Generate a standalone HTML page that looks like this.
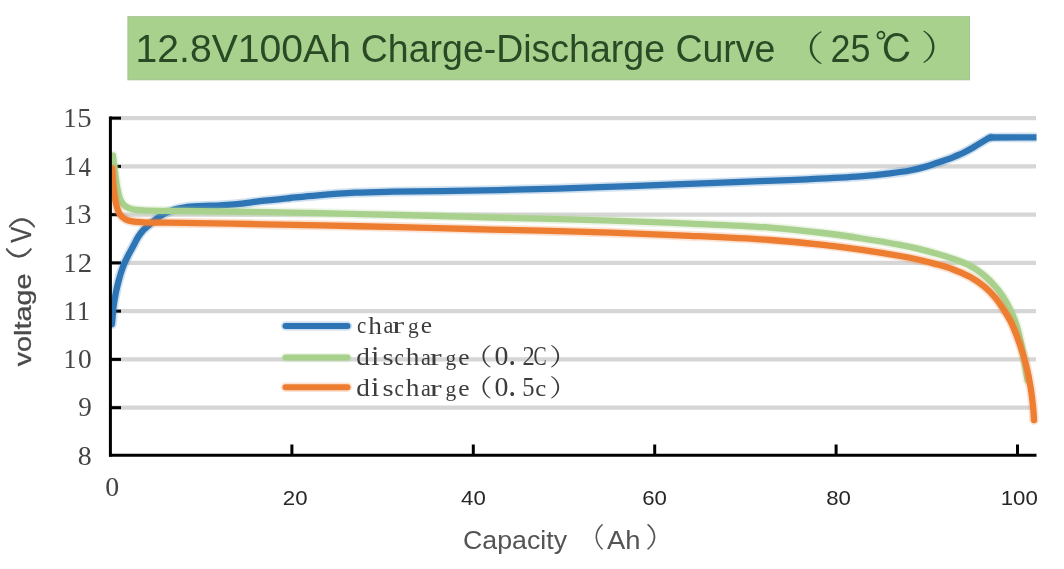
<!DOCTYPE html>
<html><head><meta charset="utf-8"><title>12.8V100Ah Charge-Discharge Curve</title><style>html,body{margin:0;padding:0;background:#fff;overflow:hidden}svg{display:block;filter:blur(0.6px)}</style></head><body>
<svg width="1064" height="569" viewBox="0 0 1064 569">
<rect width="1064" height="569" fill="#ffffff"/>
<defs><clipPath id="plot"><rect x="110.2" y="100" width="940" height="360"/></clipPath></defs>
<rect x="127.9" y="16.7" width="841.6" height="63.1" fill="#a9d18e" stroke="#a3c28f" stroke-width="1"/>
<text fill="#294a25" ><tspan x="135.60" y="61.80" font-family="Liberation Sans, sans-serif" font-weight="400" font-size="38" textLength="215.30" lengthAdjust="spacingAndGlyphs">12.8V100Ah</tspan> <tspan x="360.80" y="61.80" font-family="Liberation Sans, sans-serif" font-weight="400" font-size="38" textLength="414.60" lengthAdjust="spacingAndGlyphs">Charge-Discharge Curve</tspan> <tspan x="782.20" y="60.62" font-family="Liberation Serif, Noto Serif CJK SC, serif" font-weight="300" font-size="35.08" textLength="42.15" lengthAdjust="spacingAndGlyphs">（</tspan><tspan x="830.60" y="61.80" font-family="Liberation Sans, sans-serif" font-weight="400" font-size="38" textLength="40.00" lengthAdjust="spacingAndGlyphs">25</tspan><tspan x="874.54" y="63.17" font-family="Liberation Sans, IPAGothic, sans-serif" font-weight="400" font-size="38.88" textLength="39.17" lengthAdjust="spacingAndGlyphs">℃</tspan><tspan x="920.72" y="60.44" font-family="Liberation Serif, Noto Serif CJK SC, serif" font-weight="300" font-size="34.87" textLength="39.65" lengthAdjust="spacingAndGlyphs">）</tspan></text>
<line x1="110" y1="407.65" x2="1036" y2="407.65" stroke="#d6d6d6" stroke-width="4.2"/>
<line x1="110" y1="359.40" x2="1036" y2="359.40" stroke="#d6d6d6" stroke-width="4.2"/>
<line x1="110" y1="311.15" x2="1036" y2="311.15" stroke="#d6d6d6" stroke-width="4.2"/>
<line x1="110" y1="262.90" x2="1036" y2="262.90" stroke="#d6d6d6" stroke-width="4.2"/>
<line x1="110" y1="214.65" x2="1036" y2="214.65" stroke="#d6d6d6" stroke-width="4.2"/>
<line x1="110" y1="166.40" x2="1036" y2="166.40" stroke="#d6d6d6" stroke-width="4.2"/>
<line x1="110" y1="118.15" x2="1036" y2="118.15" stroke="#d6d6d6" stroke-width="4.2"/>
<line x1="285.5" y1="326" x2="347.5" y2="326" stroke="#2e75b6" stroke-opacity="0.22" stroke-width="9.4" stroke-linecap="round"/>
<line x1="285.5" y1="326" x2="347.5" y2="326" stroke="#2e75b6" stroke-width="6" stroke-linecap="round"/>
<line x1="285.5" y1="357.6" x2="347.5" y2="357.6" stroke="#a9d18e" stroke-opacity="0.22" stroke-width="9.4" stroke-linecap="round"/>
<line x1="285.5" y1="357.6" x2="347.5" y2="357.6" stroke="#a9d18e" stroke-width="6" stroke-linecap="round"/>
<line x1="285.5" y1="387.3" x2="347.5" y2="387.3" stroke="#ed7d31" stroke-opacity="0.22" stroke-width="9.4" stroke-linecap="round"/>
<line x1="285.5" y1="387.3" x2="347.5" y2="387.3" stroke="#ed7d31" stroke-width="6" stroke-linecap="round"/>
<text fill="#3c3c3c" ><tspan x="357.02" y="333.47" font-family="Liberation Serif, serif" font-weight="400" font-size="23.13" textLength="9.23" lengthAdjust="spacingAndGlyphs">c</tspan><tspan x="368.28" y="333.53" font-family="Liberation Serif, serif" font-weight="400" font-size="25.94" textLength="13.68" lengthAdjust="spacingAndGlyphs">h</tspan><tspan x="383.57" y="333.17" font-family="Liberation Serif, serif" font-weight="400" font-size="22.74" textLength="9.89" lengthAdjust="spacingAndGlyphs">a</tspan><tspan x="392.39" y="333.40" font-family="Liberation Serif, serif" font-weight="400" font-size="22.98" textLength="11.90" lengthAdjust="spacingAndGlyphs">r</tspan><tspan x="407.94" y="332.90" font-family="Liberation Serif, serif" font-weight="400" font-size="20.00" textLength="10.69" lengthAdjust="spacingAndGlyphs">g</tspan><tspan x="420.83" y="333.47" font-family="Liberation Serif, serif" font-weight="400" font-size="23.13" textLength="11.28" lengthAdjust="spacingAndGlyphs">e</tspan></text>
<text fill="#3c3c3c" ><tspan x="356.15" y="364.74" font-family="Liberation Serif, serif" font-weight="400" font-size="25.57" textLength="13.63" lengthAdjust="spacingAndGlyphs">d</tspan><tspan x="371.14" y="365.00" font-family="Liberation Serif, serif" font-weight="400" font-size="27.12" textLength="8.45" lengthAdjust="spacingAndGlyphs">i</tspan><tspan x="382.46" y="365.07" font-family="Liberation Serif, serif" font-weight="400" font-size="23.13" textLength="11.12" lengthAdjust="spacingAndGlyphs">s</tspan><tspan x="394.52" y="365.07" font-family="Liberation Serif, serif" font-weight="400" font-size="23.13" textLength="9.23" lengthAdjust="spacingAndGlyphs">c</tspan><tspan x="405.78" y="365.13" font-family="Liberation Serif, serif" font-weight="400" font-size="25.94" textLength="13.68" lengthAdjust="spacingAndGlyphs">h</tspan><tspan x="421.07" y="364.77" font-family="Liberation Serif, serif" font-weight="400" font-size="22.74" textLength="9.89" lengthAdjust="spacingAndGlyphs">a</tspan><tspan x="429.89" y="365.00" font-family="Liberation Serif, serif" font-weight="400" font-size="22.98" textLength="11.90" lengthAdjust="spacingAndGlyphs">r</tspan><tspan x="445.44" y="364.50" font-family="Liberation Serif, serif" font-weight="400" font-size="20.00" textLength="10.69" lengthAdjust="spacingAndGlyphs">g</tspan><tspan x="458.33" y="365.07" font-family="Liberation Serif, serif" font-weight="400" font-size="23.13" textLength="11.28" lengthAdjust="spacingAndGlyphs">e</tspan><tspan x="464.13" y="364.76" font-family="Liberation Serif, Noto Serif CJK SC, serif" font-weight="400" font-size="23.96" textLength="28.42" lengthAdjust="spacingAndGlyphs">（</tspan><tspan x="494.59" y="364.93" font-family="Liberation Serif, serif" font-weight="400" font-size="27.41" textLength="13.93" lengthAdjust="spacingAndGlyphs">0</tspan><tspan x="508.24" y="364.70" font-family="Liberation Serif, serif" font-weight="400" font-size="33.04" textLength="7.92" lengthAdjust="spacingAndGlyphs">.</tspan><tspan x="522.50" y="365.00" font-family="Liberation Serif, serif" font-weight="400" font-size="27.27" textLength="12.25" lengthAdjust="spacingAndGlyphs">2</tspan><tspan x="533.61" y="364.93" font-family="Liberation Serif, serif" font-weight="400" font-size="27.31" textLength="13.11" lengthAdjust="spacingAndGlyphs">C</tspan><tspan x="549.25" y="364.76" font-family="Liberation Serif, Noto Serif CJK SC, serif" font-weight="400" font-size="23.96" textLength="28.42" lengthAdjust="spacingAndGlyphs">）</tspan></text>
<text fill="#3c3c3c" ><tspan x="356.15" y="395.74" font-family="Liberation Serif, serif" font-weight="400" font-size="25.57" textLength="13.63" lengthAdjust="spacingAndGlyphs">d</tspan><tspan x="371.14" y="396.00" font-family="Liberation Serif, serif" font-weight="400" font-size="27.12" textLength="8.45" lengthAdjust="spacingAndGlyphs">i</tspan><tspan x="382.46" y="396.07" font-family="Liberation Serif, serif" font-weight="400" font-size="23.13" textLength="11.12" lengthAdjust="spacingAndGlyphs">s</tspan><tspan x="394.52" y="396.07" font-family="Liberation Serif, serif" font-weight="400" font-size="23.13" textLength="9.23" lengthAdjust="spacingAndGlyphs">c</tspan><tspan x="405.78" y="396.13" font-family="Liberation Serif, serif" font-weight="400" font-size="25.94" textLength="13.68" lengthAdjust="spacingAndGlyphs">h</tspan><tspan x="421.07" y="395.77" font-family="Liberation Serif, serif" font-weight="400" font-size="22.74" textLength="9.89" lengthAdjust="spacingAndGlyphs">a</tspan><tspan x="429.89" y="396.00" font-family="Liberation Serif, serif" font-weight="400" font-size="22.98" textLength="11.90" lengthAdjust="spacingAndGlyphs">r</tspan><tspan x="445.44" y="395.50" font-family="Liberation Serif, serif" font-weight="400" font-size="20.00" textLength="10.69" lengthAdjust="spacingAndGlyphs">g</tspan><tspan x="458.33" y="396.07" font-family="Liberation Serif, serif" font-weight="400" font-size="23.13" textLength="11.28" lengthAdjust="spacingAndGlyphs">e</tspan><tspan x="464.13" y="395.76" font-family="Liberation Serif, Noto Serif CJK SC, serif" font-weight="400" font-size="23.96" textLength="28.42" lengthAdjust="spacingAndGlyphs">（</tspan><tspan x="494.59" y="395.93" font-family="Liberation Serif, serif" font-weight="400" font-size="27.41" textLength="13.93" lengthAdjust="spacingAndGlyphs">0</tspan><tspan x="508.24" y="395.70" font-family="Liberation Serif, serif" font-weight="400" font-size="33.04" textLength="7.92" lengthAdjust="spacingAndGlyphs">.</tspan><tspan x="522.13" y="395.73" font-family="Liberation Serif, serif" font-weight="400" font-size="27.07" textLength="12.25" lengthAdjust="spacingAndGlyphs">5</tspan><tspan x="535.31" y="395.96" font-family="Liberation Serif, serif" font-weight="400" font-size="23.96" textLength="11.01" lengthAdjust="spacingAndGlyphs">c</tspan><tspan x="549.25" y="395.76" font-family="Liberation Serif, Noto Serif CJK SC, serif" font-weight="400" font-size="23.96" textLength="28.42" lengthAdjust="spacingAndGlyphs">）</tspan></text>
<line x1="110" y1="407.65" x2="121" y2="407.65" stroke="#000" stroke-width="3"/>
<line x1="110" y1="359.40" x2="121" y2="359.40" stroke="#000" stroke-width="3"/>
<line x1="110" y1="311.15" x2="121" y2="311.15" stroke="#000" stroke-width="3"/>
<line x1="110" y1="262.90" x2="121" y2="262.90" stroke="#000" stroke-width="3"/>
<line x1="110" y1="214.65" x2="121" y2="214.65" stroke="#000" stroke-width="3"/>
<line x1="110" y1="166.40" x2="121" y2="166.40" stroke="#000" stroke-width="3"/>
<line x1="110" y1="118.15" x2="121" y2="118.15" stroke="#000" stroke-width="3"/>
<line x1="291.90" y1="444.5" x2="291.90" y2="455" stroke="#000" stroke-width="3"/>
<line x1="473.30" y1="444.5" x2="473.30" y2="455" stroke="#000" stroke-width="3"/>
<line x1="654.70" y1="444.5" x2="654.70" y2="455" stroke="#000" stroke-width="3"/>
<line x1="836.10" y1="444.5" x2="836.10" y2="455" stroke="#000" stroke-width="3"/>
<line x1="1017.50" y1="444.5" x2="1017.50" y2="455" stroke="#000" stroke-width="3"/>
<g clip-path="url(#plot)">
<path d="M111.90,324.20 C112.07,322.67 112.23,321.45 112.40,319.60 C112.66,316.80 112.81,312.47 113.20,309.00 C113.58,305.61 114.15,302.22 114.70,299.00 C115.22,295.97 115.77,293.13 116.40,290.20 C117.03,287.26 117.74,284.33 118.50,281.40 C119.27,278.46 120.06,275.52 121.00,272.60 C121.95,269.65 122.98,266.70 124.20,263.80 C125.44,260.84 126.90,257.95 128.40,255.00 C129.96,251.95 131.76,248.84 133.40,245.80 C135.00,242.84 136.37,239.70 138.10,237.00 C139.72,234.46 141.61,231.91 143.40,230.00 C144.85,228.45 146.31,227.50 147.80,226.20 C149.35,224.84 150.71,223.46 152.50,222.00 C154.68,220.22 157.49,218.03 160.00,216.40 C162.32,214.89 164.55,213.67 167.00,212.50 C169.54,211.29 172.14,210.15 175.00,209.30 C178.11,208.38 181.31,207.81 185.00,207.30 C189.48,206.68 194.64,206.42 200.00,206.10 C206.18,205.73 213.61,205.63 220.00,205.30 C225.90,204.99 230.92,204.79 237.00,204.20 C244.10,203.51 251.82,202.17 260.00,201.20 C269.33,200.09 280.21,199.00 290.00,198.00 C299.39,197.04 307.68,196.13 317.60,195.30 C329.16,194.34 342.66,193.30 355.20,192.70 C367.73,192.10 379.55,191.96 392.80,191.70 C407.64,191.41 422.45,191.38 440.00,191.10 C462.12,190.75 489.22,190.32 515.00,189.70 C542.45,189.04 572.55,188.12 600.00,187.20 C625.78,186.34 649.22,185.38 675.00,184.40 C702.45,183.35 735.83,182.03 760.00,181.10 C777.97,180.41 790.87,180.05 807.00,179.30 C824.14,178.50 844.84,177.57 860.00,176.40 C871.42,175.52 881.02,174.50 890.00,173.40 C897.35,172.50 903.84,171.68 910.00,170.50 C915.38,169.47 920.53,168.17 925.00,166.90 C928.69,165.85 931.96,164.60 935.00,163.60 C937.54,162.76 939.67,162.08 942.00,161.30 C944.34,160.52 946.68,159.78 949.00,158.90 C951.35,158.01 953.67,156.98 956.00,156.00 C958.34,155.02 960.69,154.10 963.00,153.00 C965.36,151.87 967.68,150.61 970.00,149.30 C972.35,147.97 974.67,146.50 977.00,145.10 C979.33,143.70 981.77,142.22 984.00,140.90 C986.02,139.70 987.87,138.63 989.80,137.50" fill="none" stroke="#2e75b6" stroke-opacity="0.22" stroke-width="9.7" stroke-linecap="round" stroke-linejoin="round"/>
<path d="M111.90,324.20 C112.07,322.67 112.23,321.45 112.40,319.60 C112.66,316.80 112.81,312.47 113.20,309.00 C113.58,305.61 114.15,302.22 114.70,299.00 C115.22,295.97 115.77,293.13 116.40,290.20 C117.03,287.26 117.74,284.33 118.50,281.40 C119.27,278.46 120.06,275.52 121.00,272.60 C121.95,269.65 122.98,266.70 124.20,263.80 C125.44,260.84 126.90,257.95 128.40,255.00 C129.96,251.95 131.76,248.84 133.40,245.80 C135.00,242.84 136.37,239.70 138.10,237.00 C139.72,234.46 141.61,231.91 143.40,230.00 C144.85,228.45 146.31,227.50 147.80,226.20 C149.35,224.84 150.71,223.46 152.50,222.00 C154.68,220.22 157.49,218.03 160.00,216.40 C162.32,214.89 164.55,213.67 167.00,212.50 C169.54,211.29 172.14,210.15 175.00,209.30 C178.11,208.38 181.31,207.81 185.00,207.30 C189.48,206.68 194.64,206.42 200.00,206.10 C206.18,205.73 213.61,205.63 220.00,205.30 C225.90,204.99 230.92,204.79 237.00,204.20 C244.10,203.51 251.82,202.17 260.00,201.20 C269.33,200.09 280.21,199.00 290.00,198.00 C299.39,197.04 307.68,196.13 317.60,195.30 C329.16,194.34 342.66,193.30 355.20,192.70 C367.73,192.10 379.55,191.96 392.80,191.70 C407.64,191.41 422.45,191.38 440.00,191.10 C462.12,190.75 489.22,190.32 515.00,189.70 C542.45,189.04 572.55,188.12 600.00,187.20 C625.78,186.34 649.22,185.38 675.00,184.40 C702.45,183.35 735.83,182.03 760.00,181.10 C777.97,180.41 790.87,180.05 807.00,179.30 C824.14,178.50 844.84,177.57 860.00,176.40 C871.42,175.52 881.02,174.50 890.00,173.40 C897.35,172.50 903.84,171.68 910.00,170.50 C915.38,169.47 920.53,168.17 925.00,166.90 C928.69,165.85 931.96,164.60 935.00,163.60 C937.54,162.76 939.67,162.08 942.00,161.30 C944.34,160.52 946.68,159.78 949.00,158.90 C951.35,158.01 953.67,156.98 956.00,156.00 C958.34,155.02 960.69,154.10 963.00,153.00 C965.36,151.87 967.68,150.61 970.00,149.30 C972.35,147.97 974.67,146.50 977.00,145.10 C979.33,143.70 981.77,142.22 984.00,140.90 C986.02,139.70 987.87,138.63 989.80,137.50" fill="none" stroke="#2e75b6" stroke-width="6.3" stroke-linecap="round" stroke-linejoin="round"/>
<path d="M989.8,137.5 L1036.5,137.4" fill="none" stroke="#2e75b6" stroke-opacity="0.22" stroke-width="9.7" stroke-linecap="butt"/>
<path d="M989.8,137.5 L1036.5,137.4" fill="none" stroke="#2e75b6" stroke-width="6.3" stroke-linecap="butt"/>
<path d="M112.90,155.50 C113.20,157.67 113.49,159.62 113.80,162.00 C114.18,164.91 114.51,168.08 115.00,171.70 C115.62,176.33 116.30,182.55 117.30,187.50 C118.21,191.99 118.95,196.87 120.60,200.20 C121.87,202.76 123.41,204.78 125.40,206.30 C127.38,207.81 129.81,208.62 132.50,209.30 C135.73,210.12 138.74,210.12 143.60,210.40 C152.85,210.93 168.89,210.78 184.00,211.00 C203.31,211.28 227.60,211.54 250.00,211.90 C273.24,212.27 296.70,212.70 321.00,213.20 C346.63,213.73 374.46,214.36 400.00,215.00 C424.04,215.60 446.67,216.28 470.00,216.90 C493.33,217.52 516.58,218.09 540.00,218.70 C563.58,219.32 586.70,219.81 611.00,220.60 C636.63,221.43 663.59,222.44 690.00,223.60 C716.59,224.77 746.09,225.79 770.00,227.60 C789.50,229.08 806.70,231.02 823.00,233.00 C837.01,234.70 849.10,236.50 862.00,238.50 C874.76,240.47 889.76,242.96 900.00,244.90 C907.00,246.22 911.76,247.20 917.60,248.60 C923.46,250.00 929.28,251.61 935.10,253.30 C940.98,255.01 946.87,256.72 952.70,258.80 C958.61,260.91 964.91,263.01 970.30,265.90 C975.40,268.63 980.10,272.02 984.30,275.50 C988.24,278.76 991.73,282.42 994.90,286.00 C997.85,289.33 1000.27,292.34 1002.80,296.20 C1005.74,300.68 1008.88,306.59 1011.20,311.50 C1013.24,315.81 1014.70,319.40 1016.20,324.00 C1017.96,329.40 1019.44,335.82 1020.80,342.00 C1022.22,348.47 1023.36,355.50 1024.50,362.00 C1025.58,368.15 1026.50,374.00 1027.50,380.00" fill="none" stroke="#a9d18e" stroke-opacity="0.22" stroke-width="9.7" stroke-linecap="round" stroke-linejoin="round"/>
<path d="M112.90,155.50 C113.20,157.67 113.49,159.62 113.80,162.00 C114.18,164.91 114.51,168.08 115.00,171.70 C115.62,176.33 116.30,182.55 117.30,187.50 C118.21,191.99 118.95,196.87 120.60,200.20 C121.87,202.76 123.41,204.78 125.40,206.30 C127.38,207.81 129.81,208.62 132.50,209.30 C135.73,210.12 138.74,210.12 143.60,210.40 C152.85,210.93 168.89,210.78 184.00,211.00 C203.31,211.28 227.60,211.54 250.00,211.90 C273.24,212.27 296.70,212.70 321.00,213.20 C346.63,213.73 374.46,214.36 400.00,215.00 C424.04,215.60 446.67,216.28 470.00,216.90 C493.33,217.52 516.58,218.09 540.00,218.70 C563.58,219.32 586.70,219.81 611.00,220.60 C636.63,221.43 663.59,222.44 690.00,223.60 C716.59,224.77 746.09,225.79 770.00,227.60 C789.50,229.08 806.70,231.02 823.00,233.00 C837.01,234.70 849.10,236.50 862.00,238.50 C874.76,240.47 889.76,242.96 900.00,244.90 C907.00,246.22 911.76,247.20 917.60,248.60 C923.46,250.00 929.28,251.61 935.10,253.30 C940.98,255.01 946.87,256.72 952.70,258.80 C958.61,260.91 964.91,263.01 970.30,265.90 C975.40,268.63 980.10,272.02 984.30,275.50 C988.24,278.76 991.73,282.42 994.90,286.00 C997.85,289.33 1000.27,292.34 1002.80,296.20 C1005.74,300.68 1008.88,306.59 1011.20,311.50 C1013.24,315.81 1014.70,319.40 1016.20,324.00 C1017.96,329.40 1019.44,335.82 1020.80,342.00 C1022.22,348.47 1023.36,355.50 1024.50,362.00 C1025.58,368.15 1026.50,374.00 1027.50,380.00" fill="none" stroke="#a9d18e" stroke-width="6.3" stroke-linecap="round" stroke-linejoin="round"/>
<path d="M112.20,168.50 C112.33,170.67 112.43,172.48 112.60,175.00 C112.83,178.49 113.01,183.10 113.50,187.50 C114.06,192.47 114.71,198.57 115.90,203.30 C116.92,207.32 117.94,211.43 119.80,214.20 C121.30,216.43 123.28,218.00 125.40,219.20 C127.51,220.39 129.84,220.89 132.50,221.40 C135.76,222.03 138.74,222.07 143.60,222.30 C152.86,222.73 168.89,222.57 184.00,222.80 C203.31,223.10 227.60,223.58 250.00,224.00 C273.23,224.44 296.70,224.88 321.00,225.40 C346.63,225.94 374.46,226.58 400.00,227.20 C424.04,227.78 446.67,228.42 470.00,229.00 C493.33,229.58 516.58,230.09 540.00,230.70 C563.58,231.32 586.70,231.88 611.00,232.70 C636.63,233.56 663.59,234.59 690.00,235.80 C716.59,237.02 746.08,238.29 770.00,240.00 C789.49,241.39 806.70,243.02 823.00,244.80 C837.01,246.33 849.10,247.92 862.00,249.80 C874.76,251.66 889.75,254.15 900.00,256.00 C906.99,257.27 911.76,258.19 917.60,259.50 C923.46,260.82 929.28,262.29 935.10,263.90 C940.98,265.52 946.90,267.04 952.70,269.20 C958.64,271.42 964.89,274.07 970.30,277.10 C975.37,279.95 980.10,283.21 984.30,286.70 C988.25,289.98 991.69,293.49 994.90,297.30 C998.12,301.12 1000.91,305.43 1003.60,309.60 C1006.23,313.67 1008.53,317.17 1010.90,322.00 C1013.94,328.19 1017.12,336.61 1019.70,344.00 C1022.24,351.28 1024.46,358.62 1026.30,366.00 C1028.12,373.29 1029.53,380.82 1030.70,388.00 C1031.80,394.80 1032.64,402.17 1033.20,408.00 C1033.63,412.50 1033.73,416.00 1034.00,420.00" fill="none" stroke="#ed7d31" stroke-opacity="0.22" stroke-width="9.7" stroke-linecap="round" stroke-linejoin="round"/>
<path d="M112.20,168.50 C112.33,170.67 112.43,172.48 112.60,175.00 C112.83,178.49 113.01,183.10 113.50,187.50 C114.06,192.47 114.71,198.57 115.90,203.30 C116.92,207.32 117.94,211.43 119.80,214.20 C121.30,216.43 123.28,218.00 125.40,219.20 C127.51,220.39 129.84,220.89 132.50,221.40 C135.76,222.03 138.74,222.07 143.60,222.30 C152.86,222.73 168.89,222.57 184.00,222.80 C203.31,223.10 227.60,223.58 250.00,224.00 C273.23,224.44 296.70,224.88 321.00,225.40 C346.63,225.94 374.46,226.58 400.00,227.20 C424.04,227.78 446.67,228.42 470.00,229.00 C493.33,229.58 516.58,230.09 540.00,230.70 C563.58,231.32 586.70,231.88 611.00,232.70 C636.63,233.56 663.59,234.59 690.00,235.80 C716.59,237.02 746.08,238.29 770.00,240.00 C789.49,241.39 806.70,243.02 823.00,244.80 C837.01,246.33 849.10,247.92 862.00,249.80 C874.76,251.66 889.75,254.15 900.00,256.00 C906.99,257.27 911.76,258.19 917.60,259.50 C923.46,260.82 929.28,262.29 935.10,263.90 C940.98,265.52 946.90,267.04 952.70,269.20 C958.64,271.42 964.89,274.07 970.30,277.10 C975.37,279.95 980.10,283.21 984.30,286.70 C988.25,289.98 991.69,293.49 994.90,297.30 C998.12,301.12 1000.91,305.43 1003.60,309.60 C1006.23,313.67 1008.53,317.17 1010.90,322.00 C1013.94,328.19 1017.12,336.61 1019.70,344.00 C1022.24,351.28 1024.46,358.62 1026.30,366.00 C1028.12,373.29 1029.53,380.82 1030.70,388.00 C1031.80,394.80 1032.64,402.17 1033.20,408.00 C1033.63,412.50 1033.73,416.00 1034.00,420.00" fill="none" stroke="#ed7d31" stroke-width="6.3" stroke-linecap="round" stroke-linejoin="round"/>
</g>
<line x1="110.4" y1="116.6" x2="110.4" y2="456.5" stroke="#000" stroke-width="3"/>
<line x1="109" y1="455.3" x2="1036.5" y2="455.3" stroke="#000" stroke-width="3"/>
<text fill="#444444" ><tspan x="77.89" y="464.63" font-family="Liberation Serif, serif" font-weight="400" font-size="27.26" textLength="13.93" lengthAdjust="spacingAndGlyphs">8</tspan></text>
<text fill="#444444" ><tspan x="78.18" y="416.38" font-family="Liberation Serif, serif" font-weight="400" font-size="27.46" textLength="13.60" lengthAdjust="spacingAndGlyphs">9</tspan></text>
<text fill="#444444" ><tspan x="63.46" y="368.40" font-family="Liberation Serif, serif" font-weight="400" font-size="28.09" textLength="13.00" lengthAdjust="spacingAndGlyphs">1</tspan><tspan x="77.90" y="368.13" font-family="Liberation Serif, serif" font-weight="400" font-size="27.26" textLength="13.69" lengthAdjust="spacingAndGlyphs">0</tspan></text>
<text fill="#444444" ><tspan x="63.46" y="320.15" font-family="Liberation Serif, serif" font-weight="400" font-size="28.09" textLength="13.00" lengthAdjust="spacingAndGlyphs">1</tspan><tspan x="77.06" y="320.15" font-family="Liberation Serif, serif" font-weight="400" font-size="28.09" textLength="13.00" lengthAdjust="spacingAndGlyphs">1</tspan></text>
<text fill="#444444" ><tspan x="63.46" y="271.90" font-family="Liberation Serif, serif" font-weight="400" font-size="28.09" textLength="13.00" lengthAdjust="spacingAndGlyphs">1</tspan><tspan x="77.71" y="271.90" font-family="Liberation Serif, serif" font-weight="400" font-size="27.88" textLength="14.37" lengthAdjust="spacingAndGlyphs">2</tspan></text>
<text fill="#444444" ><tspan x="63.46" y="223.65" font-family="Liberation Serif, serif" font-weight="400" font-size="28.09" textLength="13.00" lengthAdjust="spacingAndGlyphs">1</tspan><tspan x="77.60" y="223.38" font-family="Liberation Serif, serif" font-weight="400" font-size="27.46" textLength="14.02" lengthAdjust="spacingAndGlyphs">3</tspan></text>
<text fill="#444444" ><tspan x="63.46" y="175.40" font-family="Liberation Serif, serif" font-weight="400" font-size="28.09" textLength="13.00" lengthAdjust="spacingAndGlyphs">1</tspan><tspan x="78.51" y="175.54" font-family="Liberation Serif, serif" font-weight="400" font-size="28.31" textLength="12.37" lengthAdjust="spacingAndGlyphs">4</tspan></text>
<text fill="#444444" ><tspan x="63.46" y="127.15" font-family="Liberation Serif, serif" font-weight="400" font-size="28.09" textLength="13.00" lengthAdjust="spacingAndGlyphs">1</tspan><tspan x="77.28" y="126.87" font-family="Liberation Serif, serif" font-weight="400" font-size="27.67" textLength="14.38" lengthAdjust="spacingAndGlyphs">5</tspan></text>
<text fill="#444444" ><tspan x="105.29" y="495.53" font-family="Liberation Serif, serif" font-weight="400" font-size="27.26" textLength="13.93" lengthAdjust="spacingAndGlyphs">0</tspan></text>
<text fill="#262626" ><tspan x="282.85" y="504.90" font-family="Liberation Sans, sans-serif" font-weight="400" font-size="20.6" textLength="24.70" lengthAdjust="spacingAndGlyphs">20</tspan></text>
<text fill="#262626" ><tspan x="461.05" y="504.90" font-family="Liberation Sans, sans-serif" font-weight="400" font-size="20.6" textLength="24.70" lengthAdjust="spacingAndGlyphs">40</tspan></text>
<text fill="#262626" ><tspan x="642.25" y="504.90" font-family="Liberation Sans, sans-serif" font-weight="400" font-size="20.6" textLength="24.70" lengthAdjust="spacingAndGlyphs">60</tspan></text>
<text fill="#262626" ><tspan x="826.25" y="504.90" font-family="Liberation Sans, sans-serif" font-weight="400" font-size="20.6" textLength="24.70" lengthAdjust="spacingAndGlyphs">80</tspan></text>
<text fill="#262626" ><tspan x="1000.78" y="504.90" font-family="Liberation Sans, sans-serif" font-weight="400" font-size="20.6" textLength="37.05" lengthAdjust="spacingAndGlyphs">100</tspan></text>
<text fill="#545454" ><tspan x="463.00" y="549.00" font-family="Liberation Sans, sans-serif" font-weight="400" font-size="26.5" textLength="104.00" lengthAdjust="spacingAndGlyphs">Capacity</tspan><tspan x="572.68" y="546.56" font-family="Liberation Sans, Noto Sans CJK SC, sans-serif" font-weight="300" font-size="27.09" textLength="31.92" lengthAdjust="spacingAndGlyphs">（</tspan><tspan x="607.00" y="549.00" font-family="Liberation Sans, sans-serif" font-weight="400" font-size="26.5" textLength="33.50" lengthAdjust="spacingAndGlyphs">Ah</tspan><tspan x="645.23" y="546.56" font-family="Liberation Sans, Noto Sans CJK SC, sans-serif" font-weight="300" font-size="27.09" textLength="35.32" lengthAdjust="spacingAndGlyphs">）</tspan></text>
<g transform="translate(31.2,366) rotate(-90)">
<text fill="#4a4a4a" stroke="#4a4a4a" stroke-width="0.3"><tspan x="-0.30" y="-0.30" font-family="Liberation Sans, sans-serif" font-weight="400" font-size="24.5" textLength="92.80" lengthAdjust="spacingAndGlyphs">voltage</tspan><tspan x="81.62" y="-2.63" font-family="Liberation Sans, Noto Sans CJK SC, sans-serif" font-weight="300" font-size="26.98" textLength="38.30" lengthAdjust="spacingAndGlyphs">（</tspan><tspan x="123.18" y="-0.20" font-family="Liberation Sans, sans-serif" font-weight="400" font-size="28.99" textLength="15.99" lengthAdjust="spacingAndGlyphs">V</tspan><tspan x="136.59" y="0.84" font-family="Liberation Sans, Noto Sans CJK SC, sans-serif" font-weight="300" font-size="27.30" textLength="38.30" lengthAdjust="spacingAndGlyphs">）</tspan></text>
</g>
</svg>
</body></html>
